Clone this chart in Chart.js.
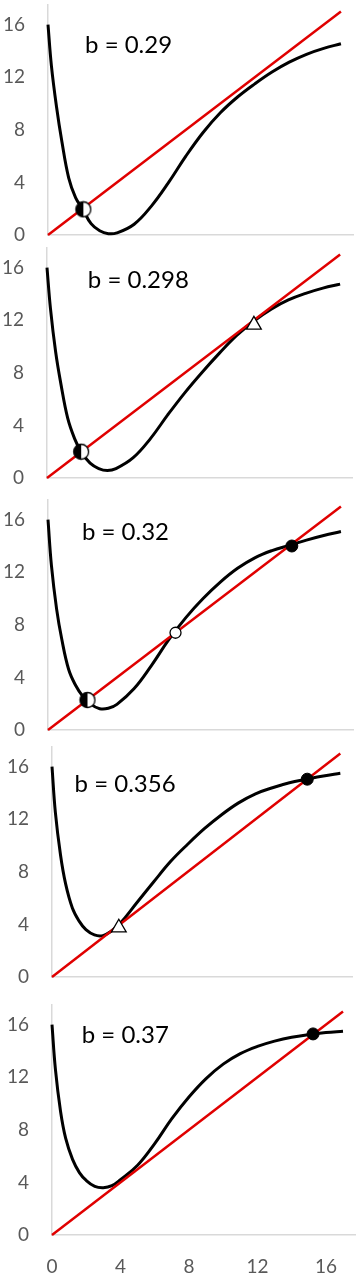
<!DOCTYPE html>
<html>
<head>
<meta charset="utf-8">
<script src="https://cdn.jsdelivr.net/npm/chart.js@4"></script>
<style>
  html, body { margin: 0; padding: 0; background: #fff; }
  #wrap { position: relative; width: 362px; height: 1276px; overflow: hidden; }
  #wrap canvas { position: absolute; left: 0; }
</style>
</head>
<body>
<div id="wrap"></div>
<script>
const xs = [0, 0.2, 0.5, 0.8, 1.2, 1.6, 2, 2.5, 3, 3.5, 4, 5, 6, 7, 8, 9, 10, 11, 12, 13, 14, 15, 16, 17];

// black curves, one per value of b
const yB029  = [16, 12.85, 9.7, 7.15, 4.35, 2.85, 2.0, 0.86, 0.32, 0.1, 0.16, 0.82, 2.2, 4.0, 6.0, 7.8, 9.3, 10.5, 11.5, 12.4, 13.15, 13.75, 14.2, 14.55];
const yB0298 = [16, 12.9, 9.6, 7.2, 4.55, 3.0, 1.95, 1.13, 0.72, 0.57, 0.72, 1.55, 3.0, 4.8, 6.5, 8.05, 9.5, 10.85, 11.95, 12.85, 13.55, 14.05, 14.45, 14.75];
const yB032  = [16, 12.5, 9.2, 6.9, 4.6, 3.4, 2.6, 1.95, 1.62, 1.65, 1.95, 3.15, 4.9, 6.85, 8.55, 10.0, 11.25, 12.3, 13.1, 13.65, 14.05, 14.45, 14.8, 15.1];
const yB0356 = [16, 12.5, 9.3, 7.1, 5.25, 4.25, 3.6, 3.2, 3.15, 3.5, 4.05, 5.65, 7.25, 8.8, 10.1, 11.3, 12.35, 13.25, 13.94, 14.4, 14.78, 15.05, 15.3, 15.5];
const yB037  = [16, 12.6, 9.4, 7.35, 5.75, 4.75, 4.15, 3.7, 3.6, 3.75, 4.2, 5.3, 6.95, 8.85, 10.5, 11.9, 13.0, 13.8, 14.35, 14.75, 15.05, 15.25, 15.4, 15.5];

const curves = [yB029, yB0298, yB032, yB0356, yB037];
const bValues = ['0.29', '0.298', '0.32', '0.356', '0.37'];

// red reference line y = x
const diagX = [0, 17];

// equilibrium markers [x, y] per panel (null = none)
const halfPoints     = [[2.05, 1.95], [1.98, 2.0], [2.29, 2.28], null, null];
const openPoints     = [null, null, [7.4, 7.4], null, null];
const filledPoints   = [null, null, [14.15, 14.0], [15.05, 15.05], [15.25, 15.3]];
const trianglePoints = [null, [12.0, 11.65], null, [3.94, 3.75], null];

const yTicks = [0, 4, 8, 12, 16];
const xTicks = [0, 4, 8, 12, 16];

// layout of the five stacked panels (pixel placement only)
const panels = [
  { y0: 235,  left: 48, right: 353, label: [2.15, 13.85] },
  { y0: 478,  left: 47, right: 353, label: [2.37, 14.46] },
  { y0: 730,  left: 48, right: 353, label: [1.97, 14.46] },
  { y0: 977,  left: 52, right: 358, label: [1.33, 14.08] },
  { y0: 1235, left: 52, right: 358, label: [1.74, 14.61] }
];

const tickFont = { family: 'Lato', size: 19 };
const tickColor = '#595959';
const axisColor = '#d9d9d9';

function halfCircle(r) {
  const c = document.createElement('canvas');
  const s = Math.ceil(2 * r + 3);
  c.width = s; c.height = s;
  const g = c.getContext('2d');
  const m = s / 2;
  g.beginPath(); g.arc(m, m, r, 0, Math.PI * 2); g.fillStyle = '#fff'; g.fill();
  g.beginPath(); g.arc(m, m, r, Math.PI / 2, Math.PI * 1.5); g.closePath(); g.fillStyle = '#000'; g.fill();
  g.beginPath(); g.arc(m, m, r, 0, Math.PI * 2); g.lineWidth = 1.3; g.strokeStyle = '#000'; g.stroke();
  return c;
}
const halfImg = halfCircle(7.5);

const bLabel = {
  id: 'bLabel',
  afterDatasetsDraw(chart, args, opts) {
    const { ctx, scales: { x, y } } = chart;
    ctx.save();
    ctx.font = '24px Lato';
    ctx.fillStyle = '#000';
    ctx.textAlign = 'left';
    ctx.textBaseline = 'alphabetic';
    ctx.fillText(opts.text, x.getPixelForValue(opts.x), y.getPixelForValue(opts.y));
    ctx.restore();
  }
};

const wrap = document.getElementById('wrap');

panels.forEach((p, i) => {
  const last = i === panels.length - 1;
  const top = p.y0 - 240;
  const height = last ? 1276 - top : 250;
  const canvas = document.createElement('canvas');
  canvas.width = 362; canvas.height = height;
  canvas.style.top = top + 'px';
  wrap.appendChild(canvas);

  const datasets = [];
  const markerSet = (pt, style) => pt ? [Object.assign({
    type: 'scatter', data: [{ x: pt[0], y: pt[1] }], clip: false
  }, style)] : [];

  datasets.push(...markerSet(halfPoints[i], { pointStyle: halfImg, pointRadius: 8 }));
  datasets.push(...markerSet(openPoints[i], { pointStyle: 'circle', pointRadius: 5.5, pointBackgroundColor: '#fff', pointBorderColor: '#000', pointBorderWidth: 1.3 }));
  datasets.push(...markerSet(filledPoints[i], { pointStyle: 'circle', pointRadius: 6, pointBackgroundColor: '#000', pointBorderColor: '#000', pointBorderWidth: 1 }));
  datasets.push(...markerSet(trianglePoints[i], { pointStyle: 'triangle', pointRadius: 8.5, pointBackgroundColor: '#fff', pointBorderColor: '#000', pointBorderWidth: 1.3 }));

  datasets.push({
    type: 'line',
    data: diagX.map(v => ({ x: v, y: v })),
    borderColor: '#e00000',
    borderWidth: 2.5,
    pointRadius: 0,
    clip: false
  });
  datasets.push({
    type: 'line',
    data: xs.map((v, k) => ({ x: v, y: curves[i][k] })),
    borderColor: '#000',
    borderWidth: 3,
    pointRadius: 0,
    tension: 0.4,
    clip: false
  });

  new Chart(canvas, {
    type: 'scatter',
    data: { datasets },
    options: {
      responsive: false,
      animation: false,
      devicePixelRatio: 1,
      layout: { padding: { top: 10, right: 362 - p.right, bottom: last ? 0 : 10, left: 0 } },
      plugins: {
        legend: { display: false },
        tooltip: { enabled: false },
        bLabel: { text: 'b = ' + bValues[i], x: p.label[0], y: p.label[1] }
      },
      scales: {
        x: {
          type: 'linear', min: 0, max: 17.7,
          grid: { display: false, drawTicks: false },
          border: { display: true, color: axisColor, width: 1.5 },
          ticks: { display: last, padding: 20, font: tickFont, color: tickColor, maxRotation: 0 },
          afterBuildTicks: s => { s.ticks = xTicks.map(v => ({ value: v })); },
          afterFit: s => { s.height = last ? 41 : 0; s.paddingLeft = 0; s.paddingRight = 0; }
        },
        y: {
          type: 'linear', min: 0, max: 17.5,
          grid: { display: false, drawTicks: false },
          border: { display: true, color: axisColor, width: 1.5 },
          ticks: { padding: 23, font: tickFont, color: tickColor },
          afterBuildTicks: s => { s.ticks = yTicks.map(v => ({ value: v })); },
          afterFit: s => { s.width = p.left; s.paddingTop = 0; s.paddingBottom = 0; }
        }
      }
    },
    plugins: [bLabel]
  });
});
</script>
</body>
</html>
